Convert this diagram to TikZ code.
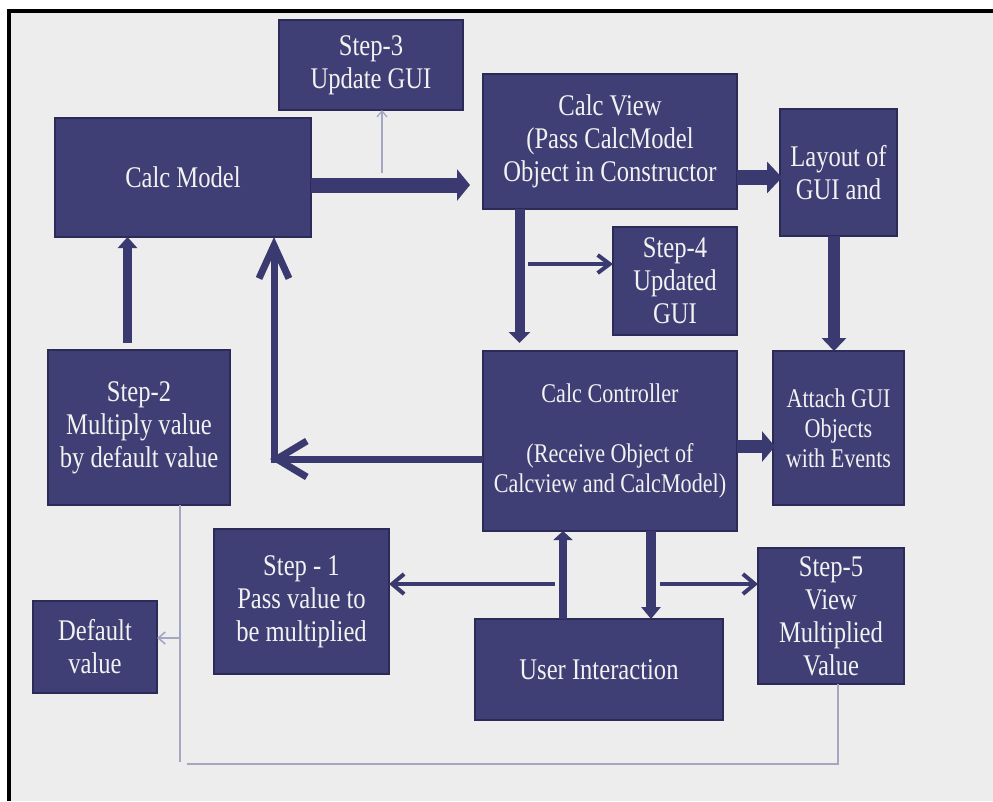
\documentclass[tikz,border=0pt]{standalone}
\usepackage{fontspec}
\setmainfont{Liberation Serif}[FakeStretch=0.82]
\usetikzlibrary{arrows.meta,calc}
\definecolor{boxfill}{HTML}{403F75}
\definecolor{boxline}{HTML}{2C2B58}
\definecolor{navy}{HTML}{3B3A70}
\definecolor{pale}{HTML}{A5A5C4}
\definecolor{bg}{HTML}{EDEDED}
\definecolor{txt}{HTML}{F2F2F2}
\begin{document}
\begin{tikzpicture}[x=1pt,y=-1pt,
  box/.style={draw=boxline, line width=1.2pt, fill=boxfill, text=txt, align=center,
    inner sep=0pt, outer sep=0pt, font=\fontsize{30}{33}\selectfont},
  smalltext/.style={font=\fontsize{27}{30}\selectfont},
  fatarrow/.style={draw=navy, line width=#1},
  chevron/.style={draw=navy, line width=#1},
  palearrow/.style={draw=pale, line width=1.6pt}
]
\useasboundingbox (0,0) rectangle (993,801);
\fill[white] (0,0) rectangle (993,801);
\fill[bg] (11,13) rectangle (993,801);
\fill[black] (7,9) rectangle (993,13);
\fill[black] (7,9) rectangle (11,801);

% boxes
\node[box, minimum width=184pt, minimum height=90pt] (step3) at (371,65) {Step-3\\Update GUI};
\node[box, minimum width=256pt, minimum height=119pt] (model) at (183,177.5) {Calc Model};
\node[box, minimum width=254pt, minimum height=135pt] (view) at (610,141.5) {Calc View\\(Pass CalcModel\\Object in Constructor};
\node[box, minimum width=117pt, minimum height=127pt] (layout) at (838.5,172.5) {Layout of\\GUI and};
\node[box, minimum width=124pt, minimum height=108pt] (step4) at (675,281) {Step-4\\Updated\\GUI};
\node[box, smalltext, minimum width=254pt, minimum height=180pt] (ctrl) at (610,441) {Calc Controller\\[30pt](Receive Object of\\Calcview and CalcModel)};
\node[box, smalltext, minimum width=131pt, minimum height=154pt] (attach) at (838.5,428) {Attach GUI\\Objects\\with Events};
\node[box, minimum width=182pt, minimum height=155pt] (step2) at (139,427.5) {Step-2\\Multiply value\\by default value};
\node[box, minimum width=175pt, minimum height=145pt] (step1) at (301.5,601.5) {Step - 1\\Pass value to\\be multiplied};
\node[box, minimum width=124pt, minimum height=92pt] (default) at (95,647) {Default\\value};
\node[box, minimum width=248pt, minimum height=101pt] (user) at (599,669.5) {User Interaction};
\node[box, minimum width=146pt, minimum height=136pt] (step5) at (831,616) {Step-5\\View\\Multiplied\\Value};

% thick arrows
\coordinate (mA) at ($(model.east)+(0,7.5)$);
\draw[fatarrow=15pt, -{Triangle[length=13pt,width=31pt]}] (mA) -- ($(mA -| view.west)+(-13,0)$);
\coordinate (vA) at ($(view.east)+(0,36)$);
\draw[fatarrow=15pt, -{Triangle[length=15pt,width=31pt]}] (vA) -- ($(vA -| layout.west)+(2,0)$);
\coordinate (v1) at ($(view.south west)+(36.5,0)$);
\draw[fatarrow=10pt, -{Triangle[length=11pt,width=21pt]}] (v1) -- ($(v1 |- ctrl.north)+(0,-8)$);
\coordinate (l1) at ($(layout.south)+(-4.5,0)$);
\draw[fatarrow=12pt, -{Triangle[length=13pt,width=24pt]}] (l1) -- (l1 |- attach.north);
\coordinate (c1) at ($(ctrl.east)+(0,5.5)$);
\draw[fatarrow=13pt, -{Triangle[length=13pt,width=30pt]}] (c1) -- ($(c1 -| attach.west)+(2,0)$);
\coordinate (s2) at ($(step2.north)+(-11.5,-7)$);
\draw[fatarrow=9pt, -{Triangle[length=11pt,width=19pt]}] (s2) -- (s2 |- model.south);
\coordinate (u1) at ($(user.north)+(-36,0)$);
\draw[fatarrow=8pt, -{Triangle[length=9pt,width=19pt]}] (u1) -- (u1 |- ctrl.south);
\coordinate (c2) at ($(ctrl.south)+(41,0)$);
\draw[fatarrow=10pt, -{Triangle[length=12pt,width=19pt]}] (c2) -- (c2 |- user.north);

% big open arrows controller -> model
\coordinate (c3) at ($(ctrl.west)+(0,18)$);
\coordinate (corner) at (270,459);
\draw[chevron=7pt, -{Straight Barb[length=30pt,width=36pt]}] (c3) -- (corner);
\coordinate (corner2) at (274,462.5);
\draw[chevron=7pt, -{Straight Barb[length=33pt,width=30pt]}] (corner2) -- (corner2 |- model.south);

% medium arrows
\coordinate (v2) at (528,264);
\draw[chevron=4pt, -{Straight Barb[length=12pt,width=18pt]}] (v2) -- (v2 -| step4.west);
\coordinate (c4) at (555,584);
\draw[chevron=4pt, -{Straight Barb[length=12pt,width=20pt]}] (c4) -- (c4 -| step1.east);
\coordinate (c5) at (660,584);
\draw[chevron=4pt, -{Straight Barb[length=12pt,width=20pt]}] (c5) -- (c5 -| step5.west);

% pale connectors
\coordinate (m3) at (382,173);
\draw[palearrow, line width=1.3pt, -{Straight Barb[length=6pt,width=10pt]}] (m3) -- (m3 |- step3.south);
\coordinate (p1) at ($(step2.south)+(41,0)$);
\coordinate (p2) at (180,762);
\draw[palearrow] (p1) -- (p2);
\coordinate (p3) at ($(step5.south)+(7,0)$);
\coordinate (p4) at (187,764);
\draw[palearrow] (p3) |- (p4);
\coordinate (p5) at (180,638);
\draw[palearrow, -{Straight Barb[length=7pt,width=12pt]}] (p5) -- (p5 -| default.east);
\end{tikzpicture}
\end{document}
